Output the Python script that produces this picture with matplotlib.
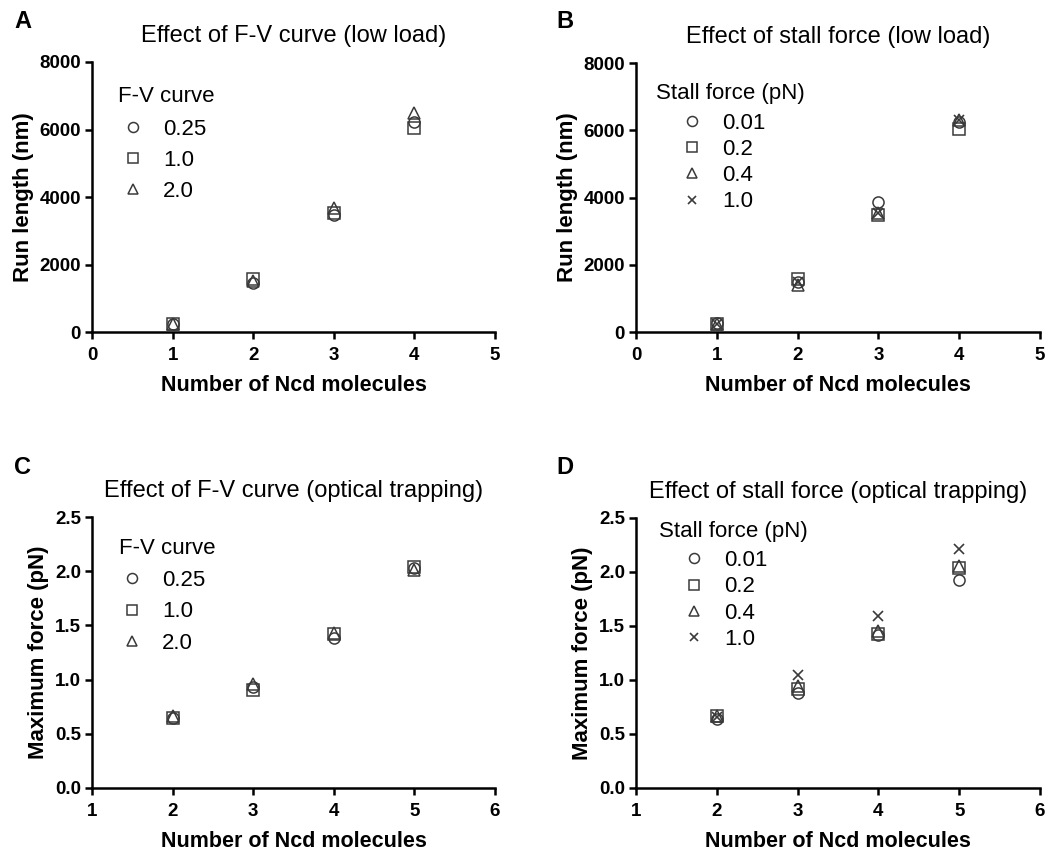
import matplotlib
matplotlib.use("Agg")
import matplotlib.pyplot as plt
from matplotlib.lines import Line2D

plt.rcParams['font.family'] = ['Liberation Sans', 'DejaVu Sans']

# ---- data ----
n_low = [1, 2, 3, 4]
n_trap = [2, 3, 4, 5]

fv_labels = ["0.25", "1.0", "2.0"]
fv_low = {
    "0.25": [250, 1450, 3460, 6230],
    "1.0": [240, 1580, 3520, 6030],
    "2.0": [250, 1500, 3670, 6500],
}
stall_labels = ["0.01", "0.2", "0.4", "1.0"]
stall_low = {
    "0.01": [280, 1500, 3880, 6250],
    "0.2": [250, 1580, 3480, 6040],
    "0.4": [230, 1400, 3550, 6300],
    "1.0": [250, 1500, 3530, 6300],
}
fv_trap = {
    "0.25": [0.65, 0.93, 1.38, 2.03],
    "1.0": [0.65, 0.90, 1.42, 2.04],
    "2.0": [0.66, 0.96, 1.43, 2.01],
}
stall_trap = {
    "0.01": [0.64, 0.88, 1.42, 1.93],
    "0.2": [0.67, 0.92, 1.43, 2.04],
    "0.4": [0.67, 0.94, 1.45, 2.06],
    "1.0": [0.66, 1.05, 1.59, 2.21],
}

titles = ["Effect of F-V curve (low load)", "Effect of stall force (low load)",
          "Effect of F-V curve (optical trapping)", "Effect of stall force (optical trapping)"]
letters = ["A", "B", "C", "D"]

markers = ['o', 's', '^', 'x']
mcol = '#3a3a3a'

W, H = 1048, 852
fig = plt.figure(figsize=(W / 100, H / 100), dpi=100)

def ax_at(l, t, r, b):
    return fig.add_axes([l / W, 1 - b / H, (r - l) / W, (b - t) / H])

boxes = [(92, 62, 495, 332), (636, 63, 1040, 332), (92, 517, 495, 788), (636, 518, 1040, 788)]
datasets = [(n_low, fv_labels, fv_low, "F-V curve"),
            (n_low, stall_labels, stall_low, "Stall force (pN)"),
            (n_trap, fv_labels, fv_trap, "F-V curve"),
            (n_trap, stall_labels, stall_trap, "Stall force (pN)")]
# legend layout (pixels): title left, title center y, handle left, first row top, labelspacing
leg_layout = [(118, 97, 122, 119, 0.44),
              (656, 94, 681, 113, 0.23),
              (119, 549, 121, 570, 0.47),
              (659, 532, 683, 550, 0.24)]
letter_pos = [(14, 22), (556, 22), (14, 467), (556, 467)]

for i, (box, (xs, labs, dat, ltitle)) in enumerate(zip(boxes, datasets)):
    ax = ax_at(*box)
    l, t, r, b = box
    handles = []
    for j, lab in enumerate(labs):
        m = markers[j]
        if m == 'x':
            kw = dict(linestyle='none', marker='x', ms=7, mew=1.2, color=mcol)
        else:
            kw = dict(linestyle='none', marker=m, ms=8, mew=1.1, mfc='none', mec=mcol)
        ax.plot(xs, dat[lab], clip_on=False, **kw)
        handles.append(Line2D([], [], label=lab, **kw))
    if i < 2:
        ax.set_xlim(0, 5)
        ax.set_xticks(range(0, 6))
        ax.set_ylim(0, 8000)
        ax.set_yticks(range(0, 8001, 2000))
        ax.set_ylabel("Run length (nm)", fontsize=16, fontweight='bold', labelpad=4)
    else:
        ax.set_xlim(1, 6)
        ax.set_xticks(range(1, 7))
        ax.set_ylim(0, 2.5)
        ax.set_yticks([0.0, 0.5, 1.0, 1.5, 2.0, 2.5])
        ax.set_yticklabels(["0.0", "0.5", "1.0", "1.5", "2.0", "2.5"])
        ax.set_ylabel("Maximum force (pN)", fontsize=16, fontweight='bold', labelpad=4)
    ax.set_xlabel("Number of Ncd molecules", fontsize=15.5, fontweight='bold', labelpad=8)
    for s in ['top', 'right']:
        ax.spines[s].set_visible(False)
    for s in ['left', 'bottom']:
        ax.spines[s].set_linewidth(1.8)
    ax.tick_params(width=1.8, length=5, labelsize=13.5, direction='out')
    ax.tick_params(axis='x', pad=5.5)
    ax.tick_params(axis='y', pad=3)
    for tl in ax.get_xticklabels() + ax.get_yticklabels():
        tl.set_fontweight('bold')
    ax.set_title(titles[i], fontsize=17, pad=14.5)

    tx, ty, hx, ry, lsp = leg_layout[i]
    ax.text((tx - l) / (r - l), (b - ty) / (b - t), ltitle, transform=ax.transAxes,
            fontsize=16, ha='left', va='center')
    ax.legend(handles=handles, loc='upper left', frameon=False,
              bbox_to_anchor=((hx - l) / (r - l), (b - ry) / (b - t)),
              fontsize=16, handlelength=1.0, handletextpad=0.86, labelspacing=lsp,
              borderpad=0, borderaxespad=0, markerscale=0.9)
    fig.text(letter_pos[i][0] / W, 1 - letter_pos[i][1] / H, letters[i],
             fontsize=17, fontweight='bold', va='center', ha='left')

fig.savefig("out.png", dpi=100)
